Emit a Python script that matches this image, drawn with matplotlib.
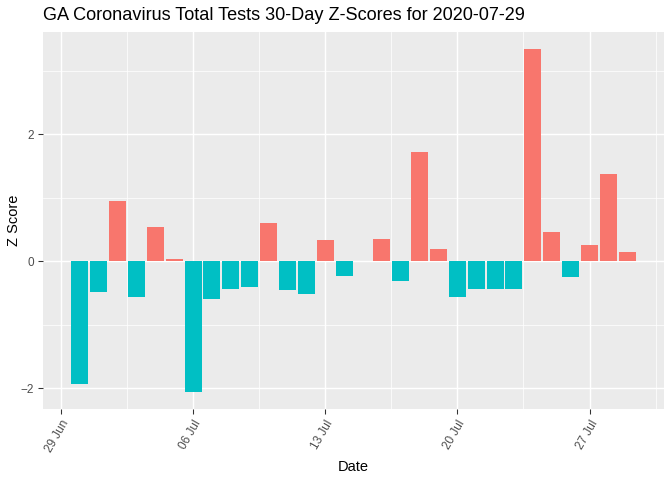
import matplotlib
matplotlib.use("Agg")
import matplotlib.pyplot as plt
import matplotlib.dates as mdates
import numpy as np
import datetime as dt

dates = [dt.date(2020, 6, 30) + dt.timedelta(days=i) for i in range(30)]
zscores = [-1.94, -0.49, 0.945, -0.567, 0.535, 0.03, -2.06, -0.60, -0.44, -0.41,
           0.60, -0.455, -0.52, 0.33, -0.235, 0.0, 0.346, -0.315, 1.716, 0.19,
           -0.567, -0.44, -0.44, -0.44, 3.34, 0.456, -0.252, 0.252, 1.37, 0.14]
tick_dates = [dt.date(2020, 6, 29), dt.date(2020, 7, 6), dt.date(2020, 7, 13),
              dt.date(2020, 7, 20), dt.date(2020, 7, 27)]
tick_labels = ["29 Jun", "06 Jul", "13 Jul", "20 Jul", "27 Jul"]
title = "GA Coronavirus Total Tests 30-Day Z-Scores for 2020-07-29"

plt.rcParams['font.family'] = ['Liberation Sans', 'DejaVu Sans']

fig = plt.figure(figsize=(7, 5), dpi=96)
L, R, B, T = 43, 664, 409, 32
ax = fig.add_axes([L/672, 1-B/480, (R-L)/672, (B-T)/480])
ax.set_facecolor("#EBEBEB")

xn = mdates.date2num(dates)
colors = ["#F8766D" if z > 0 else "#00BFC4" for z in zscores]
ax.bar(xn, zscores, width=0.9, color=colors, zorder=3)

xmin, xmax = xn[0]-0.45, xn[-1]+0.45
pad = (xmax-xmin)*0.05
ax.set_xlim(xmin-pad, xmax+pad)
ymin, ymax = min(zscores), max(zscores)
ypad = (ymax-ymin)*0.05
ax.set_ylim(ymin-ypad, ymax+ypad)

tn = mdates.date2num(tick_dates)
ax.set_xticks(tn)
ax.set_xticklabels(tick_labels, rotation=60, ha="right", rotation_mode="anchor")
ax.set_xticks([t+3.5 for t in tn], minor=True)
ax.set_yticks([-2, 0, 2])
ax.set_yticks([-1, 1, 3], minor=True)

ax.grid(True, which="major", color="white", linewidth=1.1, zorder=1)
ax.grid(True, which="minor", color="white", linewidth=0.55, zorder=1)
for s in ax.spines.values():
    s.set_visible(False)
ax.tick_params(which="major", length=3.5, color="#333333", labelcolor="#4D4D4D",
               labelsize=8.8, width=0.8)
ax.tick_params(which="minor", length=0)

ax.set_xlabel("Date", fontsize=11, color="black", labelpad=4)
ax.set_ylabel("Z Score", fontsize=11, color="black")
ax.yaxis.set_label_coords((21-L)/(R-L), 0.5)
fig.text(L/672, 1-16/480, title, fontsize=13.6, color="black", va="center", ha="left")

fig.savefig("out.png", dpi=96)
